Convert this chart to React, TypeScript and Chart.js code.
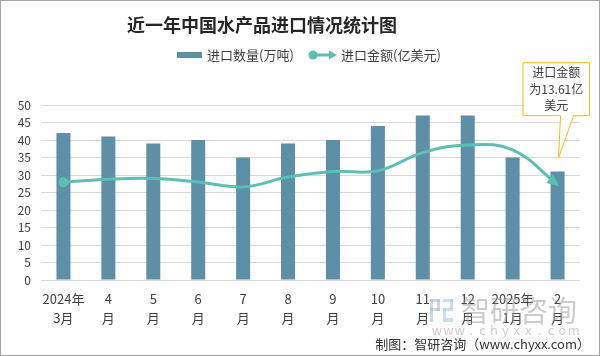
import { useEffect, useRef } from "react";
import { Chart, registerables } from "chart.js";

Chart.register(...registerables);

const categories: string[][] = [
  ["2024年", "3月"], ["4", "月"], ["5", "月"], ["6", "月"], ["7", "月"], ["8", "月"],
  ["9", "月"], ["10", "月"], ["11", "月"], ["12", "月"], ["2025年", "1月"], ["2", "月"],
];
const volumeSeries = [42, 41, 39, 40, 35, 39, 40, 44, 47, 47, 35, 31];
const valueSeries = [13.98, 14.4, 14.5, 14.0, 13.3, 14.7, 15.5, 15.6, 18.2, 19.3, 18.6, 13.61];
const volumeLabel = "进口数量(万吨)";
const valueLabel = "进口金额(亿美元)";
const titleText = "近一年中国水产品进口情况统计图";
const calloutLines = ["进口金额", "为13.61亿", "美元"];
const sourceText = "制图：智研咨询（www.chyxx.com）";

const BAR_COLOR = "#5d8fa6";
const LINE_COLOR = "#5cbfb4";
const FONT = "'Noto Sans CJK SC', 'Noto Sans', sans-serif";

const decor = {
  id: "decor",
  afterDatasetsDraw(chart: any) {
    const ctx = chart.ctx;
    const meta = chart.getDatasetMeta(1);
    const pts = meta.data;
    const last = pts[pts.length - 1];
    const prevX = last.cp1x ?? pts[pts.length - 2].x;
    const prevY = last.cp1y ?? pts[pts.length - 2].y;
    let dx = last.x - prevX;
    let dy = last.y - prevY;
    const len = Math.hypot(dx, dy) || 1;
    dx /= len; dy /= len;
    const tipX = last.x + dx * 2;
    const tipY = last.y + dy * 2;
    const L = 12, W = 5.5;
    const bx = tipX - dx * L, by = tipY - dy * L;
    ctx.save();
    ctx.fillStyle = LINE_COLOR;
    ctx.beginPath();
    ctx.moveTo(tipX, tipY);
    ctx.lineTo(bx - dy * W, by + dx * W);
    ctx.lineTo(bx + dy * W, by - dx * W);
    ctx.closePath();
    ctx.fill();
    ctx.restore();
  },
  afterDraw(chart: any) {
    const ctx = chart.ctx;
    ctx.save();
    // title
    ctx.fillStyle = "#262626";
    ctx.font = `bold 18px ${FONT}`;
    ctx.textAlign = "center";
    ctx.textBaseline = "middle";
    ctx.fillText(titleText, 262, 25);

    // legend
    ctx.font = `13px ${FONT}`;
    ctx.textAlign = "left";
    ctx.fillStyle = BAR_COLOR;
    ctx.fillRect(177, 52, 25, 6);
    ctx.fillStyle = "#404040";
    ctx.fillText(volumeLabel, 207, 55);
    ctx.strokeStyle = LINE_COLOR;
    ctx.fillStyle = LINE_COLOR;
    ctx.lineWidth = 3;
    ctx.beginPath();
    ctx.moveTo(313, 55);
    ctx.lineTo(331, 55);
    ctx.stroke();
    ctx.beginPath();
    ctx.arc(313, 55, 4.5, 0, Math.PI * 2);
    ctx.fill();
    ctx.beginPath();
    ctx.moveTo(337, 55);
    ctx.lineTo(329, 50.5);
    ctx.lineTo(329, 59.5);
    ctx.closePath();
    ctx.fill();
    ctx.fillStyle = "#404040";
    ctx.fillText(valueLabel, 341, 55);

    // callout
    const meta = chart.getDatasetMeta(1);
    const p = meta.data[meta.data.length - 1];
    const px = p.x, py = p.y;
    const left = px - 34.5, right = px + 32, top = py - 122, bottom = py - 69;
    ctx.fillStyle = "#ffffff";
    ctx.strokeStyle = "#f5b90f";
    ctx.lineWidth = 1;
    ctx.beginPath();
    ctx.moveTo(left, top);
    ctx.lineTo(right, top);
    ctx.lineTo(right, bottom);
    ctx.lineTo(px + 16, bottom);
    ctx.lineTo(px + 1, py - 27);
    ctx.lineTo(px + 3, bottom);
    ctx.lineTo(left, bottom);
    ctx.closePath();
    ctx.fill();
    ctx.stroke();
    ctx.fillStyle = "#404040";
    ctx.font = `12px ${FONT}`;
    ctx.textAlign = "center";
    calloutLines.forEach((t, i) => ctx.fillText(t, (left + right) / 2, top + 10 + i * 16.5));

    // watermark
    ctx.globalAlpha = 0.5;
    ctx.fillStyle = "#9fb3c6";
    ctx.fillRect(430, 299, 10, 3);
    ctx.fillRect(430, 299, 3, 10);
    ctx.fillRect(437, 299, 3, 12);
    ctx.fillRect(430, 308, 10, 3);
    ctx.fillRect(430, 308, 3, 14);
    ctx.fillStyle = "#8fc3e6";
    ctx.fillRect(443, 299, 10, 3);
    ctx.fillRect(450, 299, 3, 10);
    ctx.fillRect(443, 308, 10, 3);
    ctx.fillRect(443, 308, 3, 10);
    ctx.fillRect(443, 318, 10, 4);
    ctx.fillStyle = "#9a9a9a";
    ctx.font = `29px ${FONT}`;
    ctx.textAlign = "left";
    ctx.fillText("智研咨询", 461, 311);
    ctx.font = `13px ${FONT}`;
    ctx.textAlign = "center";
    "www.chyxx.com".split("").forEach((c, i) => ctx.fillText(c, 437 + i * 11.4, 330));
    ctx.globalAlpha = 1;

    // source
    ctx.fillStyle = "#333333";
    ctx.font = `13px ${FONT}`;
    ctx.textAlign = "right";
    ctx.fillText(sourceText, 590, 344);

    // border
    ctx.strokeStyle = "#a6a6a6";
    ctx.lineWidth = 1;
    ctx.strokeRect(0.5, 0.5, 599, 355);
    ctx.restore();
  },
};

export default function App() {
  const ref = useRef<HTMLCanvasElement | null>(null);
  useEffect(() => {
    if (!ref.current) return;
    Chart.defaults.font.family = FONT;
    const chart = new Chart(ref.current, {
      type: "bar",
      data: {
        labels: categories as any,
        datasets: [
          {
            type: "bar",
            label: volumeLabel,
            data: volumeSeries,
            backgroundColor: BAR_COLOR,
            barPercentage: 0.312,
            categoryPercentage: 1,
            yAxisID: "y",
            order: 2,
          },
          {
            type: "line",
            label: valueLabel,
            data: valueSeries,
            borderColor: LINE_COLOR,
            backgroundColor: LINE_COLOR,
            borderWidth: 3,
            tension: 0.4,
            pointRadius: (c: any) => (c.dataIndex === 0 ? 5 : 0),
            pointBorderWidth: 0,
            pointHoverRadius: 0,
            yAxisID: "y1",
            order: 1,
          } as any,
        ],
      },
      options: {
        responsive: false,
        animation: false,
        layout: { padding: { top: 105, right: 20, bottom: 0, left: 0 } },
        plugins: {
          legend: { display: false },
          title: { display: false },
          tooltip: { enabled: false },
        },
        scales: {
          x: {
            grid: { display: false, drawTicks: false },
            border: { display: false },
            ticks: {
              color: "#404040",
              font: { size: 13, lineHeight: 19 / 13 },
              padding: 10,
              maxRotation: 0,
              autoSkip: false,
            },
            afterFit: (s: any) => { s.height = 76; },
          },
          y: {
            position: "left",
            min: 0,
            max: 50,
            grid: { color: "#d9d9d9", lineWidth: 1, drawTicks: false },
            border: { display: false },
            ticks: { stepSize: 5, color: "#404040", font: { size: 12 }, padding: 10 },
            afterFit: (s: any) => { s.width = 41; },
          },
          y1: { display: false, min: 0, max: 25 },
        },
      },
      plugins: [decor],
    });
    return () => chart.destroy();
  }, []);
  return (
    <div style={{ position: "absolute", left: 0, top: 0, width: 600, height: 356, background: "#fff" }}>
      <canvas ref={ref} width={600} height={356} />
    </div>
  );
}
